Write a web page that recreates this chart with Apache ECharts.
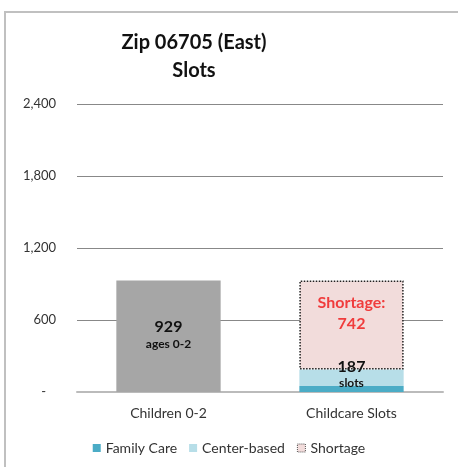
<!DOCTYPE html>
<html>
<head>
<meta charset="utf-8">
<script src="https://cdn.jsdelivr.net/npm/echarts@6/dist/echarts.min.js"></script>
<style>
  html, body { margin: 0; padding: 0; background: #fff; }
  #chart { width: 458px; height: 467px; }
</style>
</head>
<body>
<div id="chart"></div>
<script>
// data
var categories = ['Children 0-2', 'Childcare Slots'];
var children = [929, null];
var familyCare = [null, 50];
var centerBased = [null, 137];
var shortage = [null, 742];
var yTicks = [0, 600, 1200, 1800, 2400];

var totalSlots = familyCare[1] + centerBased[1];
var font = 'Lato, "Open Sans", sans-serif';

var myChart = echarts.init(document.getElementById('chart'));

var option = {
  animation: false,
  textStyle: { fontFamily: font },
  graphic: [
    {
      type: 'polyline',
      shape: { points: [[5, 467], [5, 12], [458, 12]] },
      style: { stroke: '#c0c0c0', lineWidth: 2, fill: null }
    },
    {
      type: 'text',
      x: 194, y: 57,
      style: {
        text: 'Zip 06705 (East)\nSlots',
        align: 'center', verticalAlign: 'middle',
        font: 'bold 20px ' + font,
        lineHeight: 28,
        fill: '#111'
      }
    }
  ],
  legend: {
    bottom: 7,
    left: 'center',
    itemWidth: 8,
    itemHeight: 8,
    itemGap: 12,
    icon: 'rect',
    textStyle: { fontSize: 14, color: '#333', fontFamily: font },
    data: [
      'Family Care',
      'Center-based',
      { name: 'Shortage', itemStyle: { color: '#f2dcdb', borderColor: '#555', borderWidth: 1, borderType: 'dotted' } }
    ]
  },
  grid: { left: 77, right: 15, top: 104, bottom: 75 },
  xAxis: {
    type: 'category',
    data: categories,
    axisLine: { lineStyle: { color: '#bbb', width: 2 } },
    axisTick: { show: false },
    axisLabel: { fontSize: 14, color: '#333', margin: 14, fontFamily: font }
  },
  yAxis: {
    type: 'value',
    min: yTicks[0],
    max: yTicks[yTicks.length - 1],
    interval: 600,
    axisLine: { show: false },
    axisTick: { show: false },
    splitLine: { lineStyle: { color: '#888', width: 1 } },
    axisLabel: {
      fontSize: 13, color: '#333', margin: 21, fontFamily: font,
      formatter: function (v) { return v === 0 ? '-   ' : v.toLocaleString('en-US'); }
    }
  },
  series: [
    {
      name: 'Children 0-2',
      type: 'bar',
      stack: 'a',
      barWidth: '57%',
      data: children,
      itemStyle: { color: '#a6a6a6' },
      label: {
        show: true,
        position: 'inside',
        offset: [0, -2],
        formatter: '{a|{c}}\n{b|ages 0-2}',
        rich: {
          a: { fontSize: 16, fontWeight: 'bold', color: '#111', lineHeight: 19, fontFamily: font },
          b: { fontSize: 12, fontWeight: 'bold', color: '#111', lineHeight: 14, fontFamily: font }
        }
      }
    },
    {
      name: 'Family Care',
      type: 'bar',
      stack: 'a',
      data: familyCare,
      itemStyle: { color: '#4bacc6' }
    },
    {
      name: 'Center-based',
      type: 'bar',
      stack: 'a',
      data: centerBased,
      itemStyle: { color: '#b7dee8' },
      label: {
        show: true,
        position: 'inside',
        offset: [0, -4],
        formatter: function () { return '{a|' + totalSlots + '}\n{b|slots}'; },
        rich: {
          a: { fontSize: 16, fontWeight: 'bold', color: '#111', lineHeight: 18, fontFamily: font },
          b: { fontSize: 12, fontWeight: 'bold', color: '#111', lineHeight: 14, fontFamily: font }
        }
      }
    },
    {
      name: 'Shortage',
      type: 'bar',
      stack: 'a',
      data: shortage,
      itemStyle: { color: '#f2dcdb', borderColor: '#222', borderWidth: 1.5, borderType: 'dotted' },
      label: {
        show: true,
        position: 'insideTop',
        distance: 12,
        formatter: 'Shortage:\n{c}',
        fontSize: 16,
        fontWeight: 'bold',
        lineHeight: 21,
        color: '#f03c3c',
        fontFamily: font
      }
    }
  ]
};

myChart.setOption(option);
</script>
</body>
</html>
